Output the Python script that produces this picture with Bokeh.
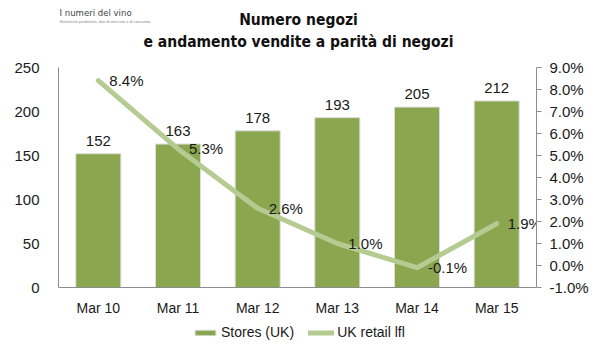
from bokeh.plotting import figure
from bokeh.models import Range1d, LinearAxis, SingleIntervalTicker, PrintfTickFormatter, Label, Legend, LegendItem, ColumnDataSource
from bokeh.embed import file_html
from bokeh.resources import INLINE
from bokeh.core.properties import value

categories = ["Mar 10", "Mar 11", "Mar 12", "Mar 13", "Mar 14", "Mar 15"]
stores = [152, 163, 178, 193, 205, 212]
lfl = [8.4, 5.3, 2.6, 1.0, -0.1, 1.9]
title_lines = ["Numero negozi", "e andamento vendite a parità di negozi"]
logo_text = "I numeri del vino"
logo_sub = "Statistiche produttive, dati di mercato e di consumo."
series_names = ["Stores (UK)", "UK retail lfl"]

BAR = "#8aa64f"
LINE = "#b5cb92"
FONT = "Liberation Sans"
TFONT = "DejaVu Sans Condensed"
AXIS = "#8c8c8c"

H = 353
TOP, BOT = 67, 287           # pixel rows of the 250 / 0 levels
per_px_l = 250 / (BOT - TOP)
per_px_r = 10 / (BOT - TOP)

src = ColumnDataSource(dict(
    cat=categories, stores=stores, lfl=lfl,
    stores_lbl=[str(v) for v in stores],
    lfl_lbl=["%.1f%%" % v for v in lfl],
))

p = figure(width=596, height=H, x_range=categories,
           y_range=Range1d(-(H - BOT) * per_px_l, 250 + TOP * per_px_l),
           output_backend="svg", toolbar_location=None, title=None,
           min_border_left=58, min_border_right=60, min_border_top=0, min_border_bottom=0)
p.outline_line_color = None
p.xgrid.grid_line_color = None
p.ygrid.grid_line_color = None
p.background_fill_color = "white"
p.border_fill_color = "white"
p.x_range.range_padding = 0

p.extra_y_ranges = {"pct": Range1d(-1 - (H - BOT) * per_px_r, 9 + TOP * per_px_r)}

bars = p.vbar(x="cat", top="stores", width=0.565, source=src, fill_color=BAR,
              line_color="#dcdcdc", line_width=1)
line = p.line(x="cat", y="lfl", source=src, y_range_name="pct", line_color=LINE,
              line_width=5, line_cap="round", line_join="round")

p.text(x="cat", y="stores", text="stores_lbl", source=src, text_align="center",
       text_baseline="bottom", y_offset=-8, text_font=value(FONT),
       text_font_size="15px", text_color="#1a1a1a")
p.text(x="cat", y="lfl", text="lfl_lbl", source=src, y_range_name="pct",
       text_align="left", text_baseline="middle", x_offset=11, text_font=value(FONT),
       text_font_size="15px", text_color="#1a1a1a")

# left axis
ya = p.yaxis[0]
ya.ticker = SingleIntervalTicker(interval=50)
ya.bounds = (0, 250)
ya.axis_line_color = AXIS
ya.major_tick_line_color = None
ya.minor_tick_line_color = None
ya.major_label_standoff = 13
ya.major_label_text_font = FONT
ya.major_label_text_font_size = "15px"
ya.major_label_text_color = "#1a1a1a"

# right axis
ra = LinearAxis(y_range_name="pct", ticker=SingleIntervalTicker(interval=1),
                formatter=PrintfTickFormatter(format="%.1f%%"), bounds=(-1, 9))
ra.axis_line_color = AXIS
ra.major_tick_line_color = AXIS
ra.major_tick_in = 0
ra.major_tick_out = 5
ra.minor_tick_line_color = None
ra.major_label_standoff = 8
ra.major_label_text_font = FONT
ra.major_label_text_font_size = "15px"
ra.major_label_text_color = "#1a1a1a"
p.add_layout(ra, "right")

xa = p.xaxis[0]
xa.fixed_location = 0
xa.axis_line_color = AXIS
xa.major_tick_line_color = None
xa.minor_tick_line_color = None
xa.major_label_standoff = 6
xa.major_label_text_font = FONT
xa.major_label_text_font_size = "14px"
xa.major_label_text_color = "#1a1a1a"

# titles and logo text (screen units from the frame's bottom-left corner)
for txt, ypix in zip(title_lines, [19, 41]):
    p.add_layout(Label(x=298 - 58, y=H - ypix, x_units="screen", y_units="screen",
                       text=txt, text_align="center", text_baseline="middle",
                       text_font=TFONT, text_font_style="bold", text_font_size="15.5px",
                       text_color="#111111"))
p.add_layout(Label(x=1, y=H - 12, x_units="screen", y_units="screen", text=logo_text,
                   text_align="left", text_baseline="middle", text_font=TFONT,
                   text_font_size="9.5px", text_color="#444444"))
p.add_layout(Label(x=1, y=H - 21, x_units="screen", y_units="screen", text=logo_sub,
                   text_align="left", text_baseline="middle", text_font=FONT,
                   text_font_size="4px", text_color="#888888"))

legend = Legend(items=[LegendItem(label=series_names[0], renderers=[bars]),
                       LegendItem(label=series_names[1], renderers=[line])],
                location=(134, 13), orientation="horizontal",
                border_line_color=None, background_fill_alpha=0,
                padding=0, margin=0, spacing=14, label_standoff=3,
                glyph_width=26, glyph_height=7,
                label_text_font=FONT, label_text_font_size="14px", label_text_color="#1a1a1a")
p.add_layout(legend, "center")

open("out.html", "w").write(file_html(p, INLINE))
